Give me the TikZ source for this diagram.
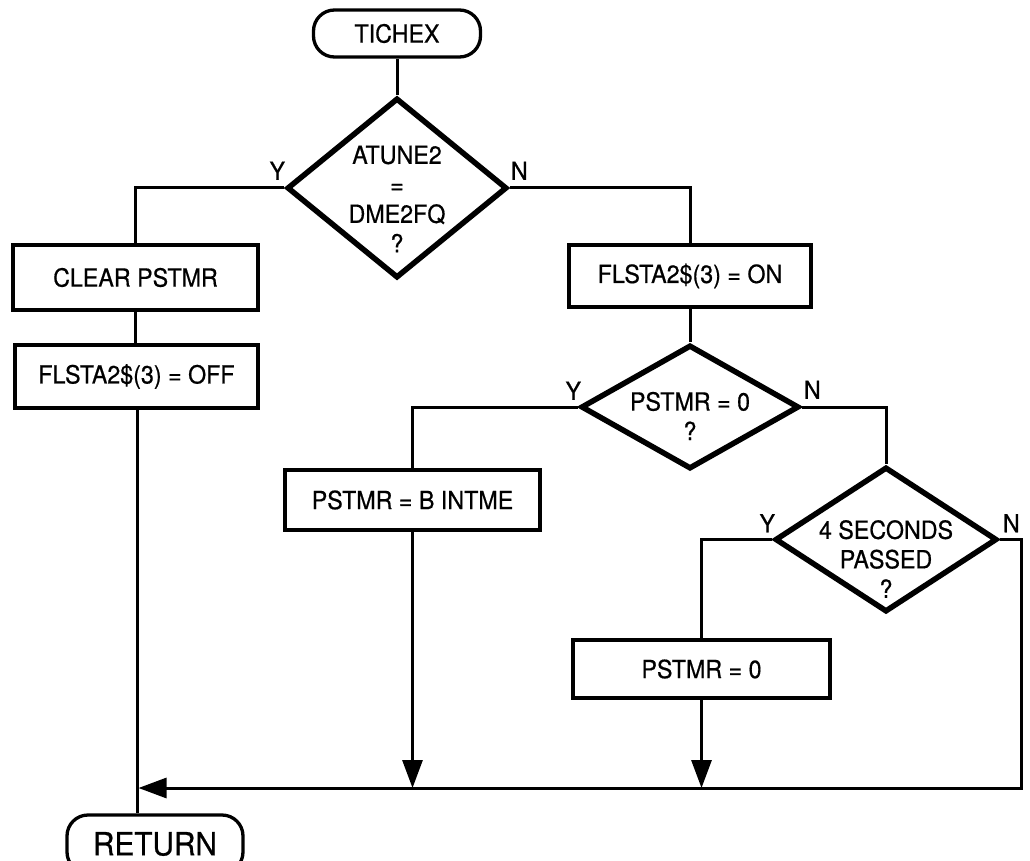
\documentclass[tikz,border=0pt]{standalone}
\usepackage{fontspec}
\setmainfont[FakeStretch=0.93,FakeBold=0.6]{TeX Gyre Heros}
\usetikzlibrary{shapes.geometric,arrows.meta}
\newcommand{\bigterm}[1]{{\fontsize{32}{36}\selectfont #1}}
\begin{document}
\begin{tikzpicture}[x=1pt,y=-1pt,
  every node/.style={font=\fontsize{25}{29.5}\selectfont},
  terminal/.style={draw,line width=3.3pt,rectangle,rounded corners=21pt,inner sep=0pt},
  process/.style={draw,line width=3.3pt,rectangle,inner sep=0pt},
  decision/.style={draw,line width=5.5pt,diamond,inner sep=0pt,line join=miter},
  dtext/.style={align=center,inner sep=0pt},
  yn/.style={inner sep=0pt},
  flow/.style={line width=3pt},
  tip/.style={-{Triangle[length=28pt,width=20pt]}}]
\useasboundingbox (0,0) rectangle (1030,861);

% start terminal and first test
\node[terminal,minimum width=167,minimum height=47] (tichex) at (397,33.5) {TICHEX};
\node[decision,minimum width=220,minimum height=180] (d1) at (397,188) {};
\node[dtext] (d1t) at (397,199) {ATUNE2\\=\\DME2FQ\\?};

% yes branch
\node[process,minimum width=245,minimum height=65] (clr) at (135.5,277.5) {CLEAR PSTMR};
\node[process,minimum width=243,minimum height=63] (off) at (136.5,376.5) {FLSTA2\$(3) = OFF};

% no branch
\node[process,minimum width=242,minimum height=62] (on) at (690,276) {FLSTA2\$(3) = ON};
\node[decision,minimum width=218,minimum height=124] (d2) at (690,407) {};
\node[dtext] (d2t) at (690,416) {PSTMR = 0\\?};
\node[process,minimum width=255,minimum height=60] (bint) at (412.5,500) {PSTMR = B INTME};
\node[decision,minimum width=222,minimum height=145] (d3) at (886,539.5) {};
\node[dtext] (d3t) at (886,559) {4 SECONDS\\PASSED\\?};
\node[process,minimum width=257,minimum height=58] (p0) at (701.5,669) {PSTMR = 0};

% exit terminal, running past the lower edge
\node[terminal,minimum width=176,minimum height=58] (ret) at (155,844) {\bigterm{RETURN}};

% branch labels
\node[yn,anchor=south east] (y1) at ([shift={(1,-8)}]d1.west) {Y};
\node[yn,anchor=south west] (n1) at ([shift={(1,-8)}]d1.east) {N};
\node[yn,anchor=south east] (y2) at ([shift={(3,-7)}]d2.west) {Y};
\node[yn,anchor=south west] (n2) at ([shift={(2,-8)}]d2.east) {N};
\node[yn,anchor=south east] (y3) at ([shift={(3,-7)}]d3.west) {Y};
\node[yn,anchor=south west] (n3) at ([shift={(3,-7)}]d3.east) {N};

% junction points on the collecting line
\coordinate (jr) at (1021,788);
\coordinate (jl) at (137,788);
\coordinate (jb) at (bint.south |- jr);
\coordinate (jp) at (p0.south |- jr);

% connectors
\draw[flow] (tichex.south) -- (d1.north);
\draw[flow] (d1.west) -| (clr.north);
\draw[flow] (clr.south) -- (clr.south |- off.north);
\draw[flow] (jl |- off.south) -- (jl |- ret.north);
\draw[flow] (d1.east) -| (on.north);
\draw[flow] (on.south) -- (d2.north);
\draw[flow] (d2.west) -| (bint.north);
\draw[flow] (d2.east) -| (d3.north);
\draw[flow] (d3.west) -| (p0.north);
\draw[flow,tip] (bint.south) -- (jb);
\draw[flow,tip] (p0.south) -- (jp);
\draw[flow] (d3.east) -| (jr) -- ([xshift=-1pt]jb);
\draw[flow,tip] (jr) -- ([xshift=1.5pt]jl);
\end{tikzpicture}
\end{document}
